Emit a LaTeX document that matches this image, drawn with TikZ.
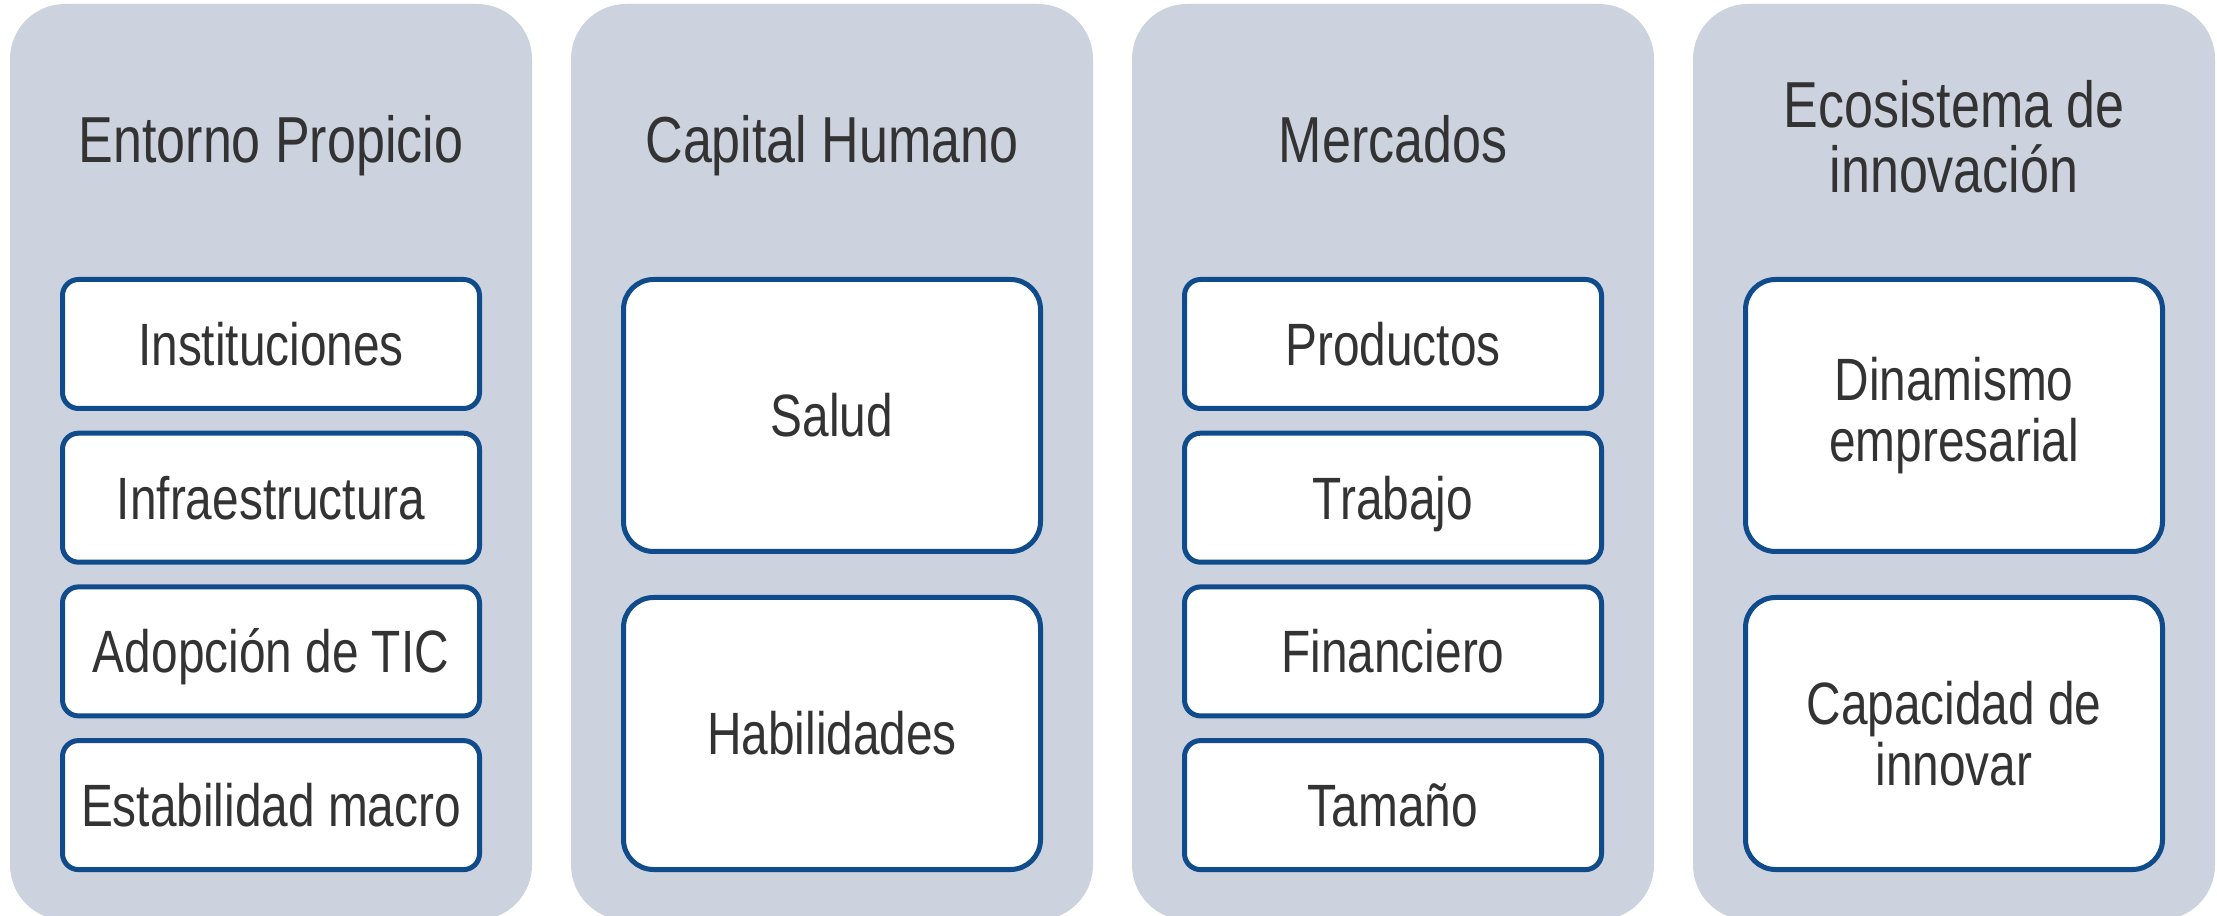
\documentclass[tikz,border=0pt]{standalone}
\usepackage{fontspec}
\setmainfont[FakeStretch=0.8]{Liberation Sans}
\definecolor{panelgray}{RGB}{204,210,222}
\definecolor{boxblue}{RGB}{16,76,140}
\definecolor{txtgray}{RGB}{51,51,51}

\begin{document}
\begin{tikzpicture}[
  panel/.style={fill=panelgray, rounded corners=0.55cm, minimum width=5.22cm, minimum height=9.16cm, inner sep=0pt},
  coltitle/.style={text=txtgray, font=\fontsize{18.5}{18.5}\selectfont, align=center},
  oneline/.style={text height=12.2pt, text depth=0pt},
  box/.style={draw=boxblue, fill=white, line width=0.05cm, inner sep=0pt, minimum width=4.17cm, text=txtgray, font=\fontsize{17}{17.3}\selectfont, align=center},
  item/.style={box, oneline, rounded corners=0.16cm, minimum height=1.29cm},
  bigitem/.style={box, rounded corners=0.3cm, minimum height=2.72cm}
]
\useasboundingbox (0,0) rectangle (22.17,9.15);

\node[panel] (entorno) at (2.71,4.53) {};
\node[panel] (capital) at (8.32,4.53) {};
\node[panel] (mercados) at (13.93,4.53) {};
\node[panel] (ecosistema) at (19.54,4.53) {};

\node[coltitle, text height=13.2pt, text depth=0pt] (entornoT) at (2.71,7.76) {Entorno Propicio};
\node[coltitle, text height=13.2pt, text depth=0pt] (capitalT) at (8.32,7.76) {Capital Humano};
\node[coltitle, text height=13.2pt, text depth=0pt] (mercadosT) at (13.93,7.76) {Mercados};
\node[coltitle] (ecosistemaT) at (19.54,7.78) {Ecosistema de\\innovación};

\node[item] (instituciones) at (2.71,5.71) {Instituciones};
\node[item] (infra) at (2.71,4.173) {Infraestructura};
\node[item] (tic) at (2.71,2.636) {Adopción de TIC};
\node[item] (macro) at (2.71,1.099) {Estabilidad macro};

\node[bigitem, oneline] (salud) at (8.32,4.995) {Salud};
\node[bigitem, oneline] (habilidades) at (8.32,1.815) {Habilidades};

\node[item] (productos) at (13.93,5.71) {Productos};
\node[item] (trabajo) at (13.93,4.173) {Trabajo};
\node[item] (financiero) at (13.93,2.636) {Financiero};
\node[item] (tamano) at (13.93,1.099) {Tamaño};

\node[bigitem] (dinamismo) at (19.54,4.995) {Dinamismo\\empresarial};
\node[bigitem] (capacidad) at (19.54,1.815) {Capacidad de\\innovar};
\end{tikzpicture}
\end{document}
